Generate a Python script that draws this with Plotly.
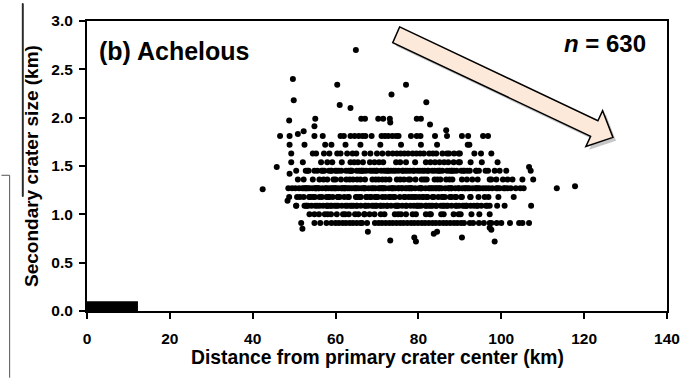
import plotly.graph_objects as go

# Isolated secondary craters: distance from primary centre (km), diameter (km)
outlier_dist = [64.9, 49.7, 60.4, 77.0, 73.5, 49.9, 81.9, 61.0, 63.6,
                48.8, 54.9, 82.8, 86.7, 52.3, 50.9, 73.2,
                42.4, 113.4, 117.8,
                52.0, 67.8, 83.7, 84.5, 97.2, 97.6,
                73.2, 79.0, 79.4, 90.5, 98.4,
                45.8, 48.9, 48.4, 106.7]
outlier_size = [2.70, 2.40, 2.34, 2.34, 2.24, 2.18, 2.16, 2.13, 2.10,
                1.97, 1.91, 1.93, 1.87, 1.86, 1.83, 1.95,
                1.26, 1.27, 1.29,
                0.85, 0.82, 0.80, 0.82, 0.86, 0.84,
                0.73, 0.76, 0.72, 0.76, 0.72,
                1.49, 1.42, 1.14, 1.49]

# Craters grouped by measured diameter (km): distances (km) for each size
dist_199 = [55.1, 66.2, 67.1, 70.3, 71.5, 73.1, 79.6, 80.6]
dist_181 = [46.6, 48.9, 54.9, 56.9, 61.2, 62.0, 63.6, 64.6, 65.6, 66.5, 67.2, 68.7,
            71.1, 71.9, 72.7, 73.7, 74.6, 75.2, 78.2, 79.6, 80.5, 84.0, 86.9, 90.5,
            92.0, 95.6, 96.8]
dist_172 = [48.9, 52.5, 57.5, 59.0, 66.0, 75.8, 80.6, 84.5, 91.9, 92.3, 62.4, 70.8]
dist_163 = [49.3, 54.5, 55.3, 58.5, 60.4, 61.2, 62.8, 65.0, 67.0, 68.4,
            70.0, 72.7, 73.8, 74.8, 75.7, 76.6, 77.5, 78.6, 79.5, 80.4,
            81.3, 82.6, 83.5, 84.3, 85.8, 86.9, 87.4, 89.7, 90.0, 93.5,
            97.6, 64.1, 71.3, 57.2, 88.6, 95.1]
dist_154 = [49.3, 52.1, 56.5, 58.0, 59.2, 61.5, 63.6, 64.5, 65.4, 66.6, 68.3, 69.4,
            70.5, 71.5, 74.6, 75.6, 77.0, 81.8, 82.9, 84.0, 85.1, 86.2, 87.2, 88.5,
            89.7, 90.0, 92.6, 95.3, 99.1, 79.2]
dist_145 = [50.5, 52.8, 53.5, 54.9, 55.6, 56.6, 57.3, 58.4, 59.0, 59.9,
            60.8, 61.4, 62.5, 63.1, 64.0, 65.1, 65.7, 66.8, 67.4, 68.3,
            69.3, 70.0, 71.0, 71.7, 72.8, 73.4, 74.5, 75.2, 76.3, 76.9,
            78.0, 78.7, 79.8, 80.4, 81.5, 82.2, 83.3, 83.9, 85.0, 85.8,
            86.9, 87.5, 88.6, 89.2, 90.3, 91.1, 92.4, 94.0, 94.6, 96.8,
            98.4, 99.6, 101.2, 107.1, 58.9, 63.7, 68.8, 72.2, 77.4, 81.0,
            84.6, 88.0, 91.8, 66.2, 74.0, 53.2, 56.9, 60.3, 63.6, 66.4,
            69.8, 72.6, 76.1, 79.0, 82.4, 85.2, 88.1, 90.8, 93.9, 96.2]
dist_136 = [50.9, 52.3, 54.5, 56.1, 58.0, 60.0, 61.3, 62.6, 64.2, 66.0,
            67.1, 68.9, 70.4, 72.1, 73.0, 74.8, 76.5, 77.6, 79.3, 80.8,
            82.0, 83.9, 85.3, 86.7, 88.2, 90.5, 91.7, 93.0, 97.2, 98.8,
            101.5, 102.7, 105.1, 57.1, 63.4, 69.7, 75.6, 81.4, 87.5, 94.3,
            97.6, 100.4, 107.7, 59.5, 65.2, 71.3, 78.0, 84.6]
dist_127 = [48.6, 51.2, 52.0, 52.9, 53.7, 54.4, 55.3, 56.0, 56.8, 57.7,
            58.3, 59.2, 60.1, 60.7, 61.6, 62.4, 63.3, 63.9, 64.8, 65.6,
            66.3, 67.2, 68.0, 68.7, 69.6, 70.4, 71.1, 72.0, 72.9, 73.5,
            74.4, 75.3, 76.0, 76.8, 77.7, 78.4, 79.2, 80.1, 80.8, 81.7,
            82.5, 83.2, 84.1, 84.9, 85.6, 86.5, 87.3, 88.0, 88.9, 89.7,
            90.6, 91.4, 92.3, 93.1, 94.0, 94.8, 95.6, 98.8, 99.6, 101.5,
            102.3, 103.5, 97.0, 104.6, 55.0, 62.0, 96.3, 100.6, 50.3, 53.3,
            58.9, 65.1, 71.6, 77.2, 83.6, 52.4, 55.8, 59.6, 62.9, 66.8,
            70.7, 73.9, 77.9, 80.6, 84.4, 87.9, 91.2, 93.8, 99.1, 49.5,
            52.8, 55.3, 57.6, 59.9, 62.2, 64.5, 66.9, 69.1, 71.4, 73.7,
            76.0, 78.3, 80.5, 82.8, 85.1, 87.4, 89.7, 91.9, 94.4, 97.8,
            100.9, 105.4, 61.4, 75.1]
dist_118 = [48.8, 50.7, 52.3, 53.9, 55.0, 56.7, 57.8, 59.3, 60.5, 62.1,
            63.2, 64.9, 65.8, 67.4, 68.6, 70.2, 71.3, 72.9, 74.0, 75.5,
            76.7, 78.3, 79.4, 81.0, 82.2, 83.7, 84.8, 86.4, 87.6, 89.1,
            90.5, 92.5, 94.5, 96.9, 58.4, 66.1, 73.3, 80.2, 85.9, 61.0,
            69.5, 77.6, 51.4, 53.6, 56.1, 58.4, 60.6, 63.0, 65.2, 67.5,
            69.8, 72.0, 74.3, 76.6, 78.9, 81.2, 83.4, 85.7, 88.0, 90.3,
            92.6, 96.0, 99.3, 103.0, 54.6, 68.3, 82.0, 88.9]
dist_109 = [50.5, 52.5, 53.4, 54.2, 55.1, 56.2, 57.0, 57.9, 58.8, 59.8,
            60.6, 61.5, 62.4, 63.5, 64.3, 65.2, 66.1, 67.1, 67.9, 68.8,
            69.7, 70.8, 71.6, 72.5, 73.4, 74.4, 75.2, 76.1, 77.0, 78.1,
            78.9, 79.8, 80.7, 81.7, 82.5, 83.4, 84.3, 85.4, 86.2, 87.1,
            88.0, 89.0, 89.8, 90.7, 91.6, 92.6, 93.4, 94.3, 95.2, 96.3,
            97.2, 99.0, 100.8, 107.2, 53.0, 58.3, 63.9, 69.2, 74.9, 80.2,
            85.9, 91.1, 50.5, 52.9, 55.6, 57.9, 60.2, 62.8, 65.0, 67.3,
            69.9, 72.4, 74.7, 77.1, 79.6, 81.9, 84.3, 86.8, 89.2, 91.6,
            94.1, 96.6, 59.1, 71.0, 83.0]
dist_100 = [54.9, 56.0, 57.4, 58.9, 60.3, 61.8, 63.2, 64.7, 66.9, 69.4,
            71.8, 74.3, 77.0, 79.4, 81.8, 83.0, 86.1, 88.5, 89.7, 92.8,
            97.2, 65.5, 75.8, 53.7, 58.1, 62.3, 67.0, 70.9, 75.1, 78.6,
            82.7, 85.5, 90.2, 94.7, 68.2]
dist_091 = [51.7, 54.9, 56.3, 57.8, 60.0, 60.8, 61.7, 62.5, 63.4, 64.2,
            65.1, 66.0, 66.4, 69.5, 70.4, 71.2, 72.1, 73.0, 73.8, 74.7,
            75.6, 76.4, 77.3, 78.2, 79.0, 79.9, 80.8, 81.6, 82.5, 83.4,
            84.2, 85.1, 86.0, 86.8, 87.7, 88.6, 89.4, 90.3, 91.0, 92.4,
            93.2, 94.6, 97.2, 97.6, 100.0, 104.3, 105.1, 106.7, 59.0, 67.6,
            95.8, 98.9, 102.1]

size_levels = [1.99, 1.81, 1.72, 1.63, 1.54, 1.45, 1.36, 1.27, 1.18, 1.09, 1.00, 0.91]
size_groups = [dist_199, dist_181, dist_172, dist_163, dist_154, dist_145, dist_136,
               dist_127, dist_118, dist_109, dist_100, dist_091]

# Axis ticks
x_ticks = [0, 20, 40, 60, 80, 100, 120, 140]
y_ticks = [0.0, 0.5, 1.0, 1.5, 2.0, 2.5, 3.0]

# Block arrow outline (data units) showing the decreasing-size trend
arrow_x = [75.46, 123.32, 124.46, 126.95, 120.42, 121.56, 73.80]
arrow_y = [2.939, 1.968, 2.072, 1.796, 1.703, 1.807, 2.776]

distance = list(outlier_dist)
size = list(outlier_size)
for level, group in zip(size_levels, size_groups):
    distance += group
    size += [level] * len(group)

FONT = "Arial, 'Liberation Sans', sans-serif"


def path_from(xs, ys, dx=0.0, dy=0.0):
    pts = [f"{x + dx},{y + dy}" for x, y in zip(xs, ys)]
    return "M " + " L ".join(pts) + " Z"


fig = go.Figure()
fig.add_trace(go.Scatter(
    x=distance, y=size, mode="markers",
    marker=dict(color="black", size=6, line=dict(width=0)),
    showlegend=False, hoverinfo="skip",
))

shapes = [
    # scale bar in the lower-left corner
    dict(type="rect", xref="x", yref="y", x0=0, x1=12.3, y0=0, y1=0.1,
         fillcolor="black", line=dict(width=0), layer="above"),
    # arrow drop shadow
    dict(type="path", xref="x", yref="y", path=path_from(arrow_x, arrow_y, 0.75, -0.035),
         fillcolor="rgba(0,0,0,0.22)", line=dict(width=0)),
    # arrow body
    dict(type="path", xref="x", yref="y", path=path_from(arrow_x, arrow_y),
         fillcolor="#FDE9D9", line=dict(color="black", width=1.5)),
    # panel edge lines at the left margin
    dict(type="rect", xref="paper", yref="paper", x0=-0.1115, x1=-0.1100, y0=0.395, y1=1.06,
         fillcolor="#222222", line=dict(color="#222222", width=1)),
    dict(type="line", xref="paper", yref="paper", x0=-0.1475, x1=-0.1334, y0=0.468, y1=0.468,
         line=dict(color="#555555", width=1)),
    dict(type="line", xref="paper", yref="paper", x0=-0.1334, x1=-0.1334, y0=0.468, y1=-0.23,
         line=dict(color="#555555", width=1)),
]

annotations = [
    dict(text="<b>(b) Achelous</b>", xref="x", yref="y", x=2.3, y=2.69,
         xanchor="left", yanchor="middle", showarrow=False,
         font=dict(family=FONT, size=25, color="black")),
    dict(text="<b><i>n</i> = 630</b>", xref="x", yref="y", x=135.3, y=2.765,
         xanchor="right", yanchor="middle", showarrow=False,
         font=dict(family=FONT, size=24, color="black")),
    dict(text="<b>Distance from primary crater center (km)</b>", xref="paper", yref="paper",
         x=0.5, y=-0.16, xanchor="center", yanchor="middle", showarrow=False,
         font=dict(family=FONT, size=19.3, color="black")),
    dict(text="<b>Secondary crater size (km)</b>", xref="paper", yref="paper",
         x=-0.0966, y=0.5, xanchor="center", yanchor="middle", textangle=-90,
         showarrow=False, font=dict(family=FONT, size=19, color="black")),
]

axis_common = dict(
    showgrid=False, zeroline=False, showline=True, mirror=True,
    linecolor="black", linewidth=2, ticks="outside", ticklen=6, tickwidth=1.5,
    tickcolor="black",
    tickfont=dict(family=FONT, size=15.5, color="black", weight="bold"),
)

fig.update_layout(
    width=692, height=378,
    margin=dict(l=87, r=15, t=17, b=67),
    paper_bgcolor="white", plot_bgcolor="white",
    xaxis=dict(range=[0, 140], tickvals=x_ticks, ticktext=[str(v) for v in x_ticks],
               ticklabelstandoff=6, **axis_common),
    yaxis=dict(range=[0, 3.0], tickvals=y_ticks, ticktext=[f"{v:.1f}" for v in y_ticks],
               ticklabelstandoff=3, **axis_common),
    shapes=shapes,
    annotations=annotations,
)

fig.write_html("out.html")
